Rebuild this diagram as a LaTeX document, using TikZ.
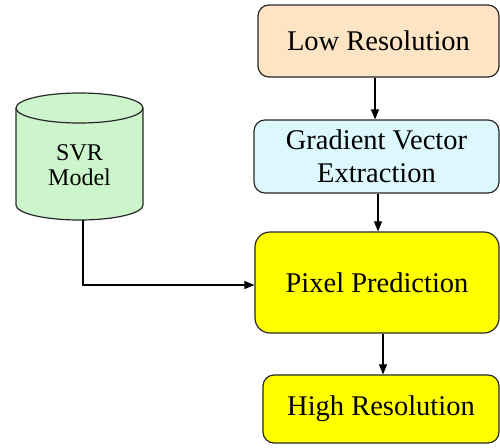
\documentclass[tikz,border=0pt]{standalone}
\usepackage{fontspec}
\setmainfont{Liberation Serif}
\newfontfamily\tnr{Liberation Serif}
\usetikzlibrary{arrows.meta}
\definecolor{lowfill}{RGB}{252,228,196}
\definecolor{gradfill}{RGB}{220,248,252}
\definecolor{cylfill}{RGB}{204,245,204}
\definecolor{yel}{RGB}{255,255,0}
\definecolor{edge}{RGB}{40,40,40}
\begin{document}
\begin{tikzpicture}[x=1pt,y=1pt,
  box/.style={draw=edge,line width=1.2pt,rounded corners=11pt,align=center,
    font=\tnr\fontsize{28.5}{33}\selectfont,inner sep=0pt},
  arr/.style={line width=1.1pt,-{Triangle[length=10pt,width=8pt]}}]
\useasboundingbox (0,0) rectangle (500,-447);
\node[box,fill=lowfill,minimum width=241pt,minimum height=72pt] (low) at (378.5,-41) {Low Resolution};
\node[box,fill=gradfill,minimum width=245pt,minimum height=73pt] (grad) at (376.5,-156.5) {Gradient Vector\\Extraction};
\node[box,fill=yel,rounded corners=15pt,minimum width=244pt,minimum height=101pt] (pix) at (377,-282.5) {Pixel Prediction};
\node[box,fill=yel,minimum width=236pt,minimum height=68pt] (high) at (381,-409) {High Resolution};
% cylinder
\filldraw[fill=cylfill,draw=edge,line width=1.2pt] (16,-108) -- (16,-205)
  arc[start angle=180,end angle=360,x radius=63.5pt,y radius=15pt] -- (143,-108)
  arc[start angle=0,end angle=180,x radius=63.5pt,y radius=15pt] -- cycle;
\draw[draw=edge,line width=1.2pt] (16,-108) arc[start angle=180,end angle=360,x radius=63.5pt,y radius=15pt];
\node[align=center,font=\tnr\fontsize{24}{25}\selectfont,inner sep=0pt] (svr) at (79.5,-165) {SVR\\Model};
\coordinate (svrb) at (83,-220);
% connectors
\draw[arr] ([xshift=-3.5pt]low.south) -- ([xshift=-3.5pt]low.south |- grad.north);
\draw[arr] ([xshift=1.5pt]grad.south) -- ([xshift=1.5pt]grad.south |- pix.north);
\draw[arr] ([xshift=6pt]pix.south) -- ([xshift=6pt]pix.south |- high.north);
\draw[arr] (svrb) |- ([yshift=-2.5pt]pix.west);
\end{tikzpicture}
\end{document}
